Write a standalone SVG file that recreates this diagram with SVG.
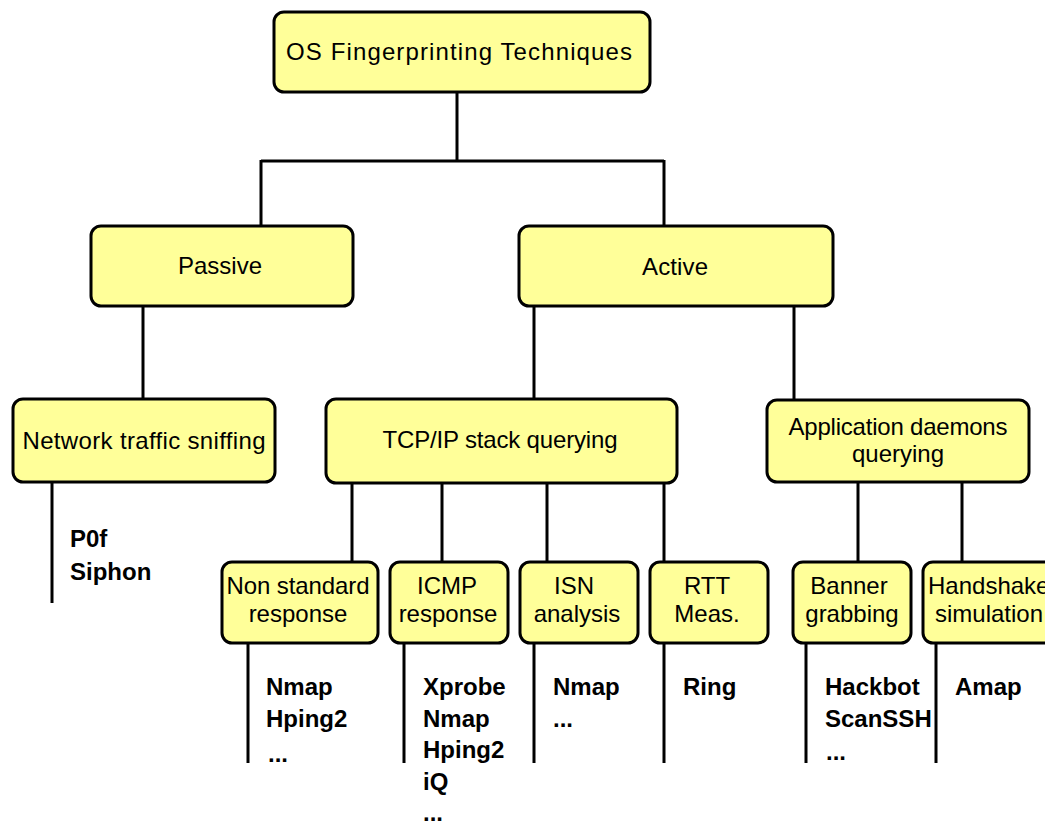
<svg xmlns="http://www.w3.org/2000/svg" width="1045" height="823" viewBox="0 0 1045 823">
  <style>
    .box { fill: #FFFF99; stroke: #000; stroke-width: 3; }
    .lbl { font-family: "Liberation Sans", Arial, sans-serif; font-size: 24px; fill: #000; text-anchor: middle; }
    .tool { font-family: "Liberation Sans", Arial, sans-serif; font-size: 24px; font-weight: bold; fill: #000; }
    .conn { fill: none; stroke: #000; stroke-width: 3; }
  </style>
  <rect width="1045" height="823" fill="#fff"/>

  <!-- tree connectors -->
  <g id="connectors" class="conn">
    <path d="M457,92 V161 M261,161 H664 M261,160 V226 M664,160 V226"/>
    <path d="M143,306 V399"/>
    <path d="M534,306 V399 M794,306 V400"/>
    <path d="M352,483 V562 M442,483 V562 M547,483 V562 M664,483 V562"/>
    <path d="M858,482 V562 M962,482 V562"/>
    <path d="M52,482 V603"/>
    <path d="M248,643 V763 M404,643 V763 M534,643 V763 M664,643 V763 M806,643 V763 M936,643 V763"/>
  </g>

  <g id="root">
    <rect class="box" x="274" y="12" width="376" height="80" rx="10"/>
    <text class="lbl" x="459" y="60" textLength="346" lengthAdjust="spacing">OS Fingerprinting Techniques</text>
  </g>

  <g id="passive">
    <rect class="box" x="91" y="226" width="262" height="80" rx="10"/>
    <text class="lbl" x="220" y="274" textLength="84" lengthAdjust="spacing">Passive</text>
  </g>

  <g id="active">
    <rect class="box" x="519" y="226" width="314" height="80" rx="10"/>
    <text class="lbl" x="675" y="275" textLength="66" lengthAdjust="spacing">Active</text>
  </g>

  <g id="sniffing">
    <rect class="box" x="13" y="399" width="262" height="83" rx="10"/>
    <text class="lbl" x="144" y="449" textLength="243" lengthAdjust="spacing">Network traffic sniffing</text>
    <text class="tool" x="70" y="547">P0f</text>
    <text class="tool" x="70" y="580">Siphon</text>
  </g>

  <g id="tcpip">
    <rect class="box" x="326" y="399" width="351" height="84" rx="10"/>
    <text class="lbl" x="500" y="448" textLength="235" lengthAdjust="spacing">TCP/IP stack querying</text>
  </g>

  <g id="appdaemons">
    <rect class="box" x="767" y="400" width="262" height="82" rx="10"/>
    <text class="lbl" x="898" y="435" textLength="219" lengthAdjust="spacing">Application daemons</text>
    <text class="lbl" x="898" y="462">querying</text>
  </g>

  <g id="nonstandard">
    <rect class="box" x="222" y="562" width="156" height="81" rx="10"/>
    <text class="lbl" x="298" y="594" textLength="143" lengthAdjust="spacing">Non standard</text>
    <text class="lbl" x="298" y="622">response</text>
    <text class="tool" x="266" y="695">Nmap</text>
    <text class="tool" x="266" y="727">Hping2</text>
    <text class="tool" x="268" y="762">...</text>
  </g>

  <g id="icmp">
    <rect class="box" x="390" y="562" width="118" height="81" rx="10"/>
    <text class="lbl" x="447" y="594">ICMP</text>
    <text class="lbl" x="448" y="622">response</text>
    <text class="tool" x="423" y="695">Xprobe</text>
    <text class="tool" x="423" y="727">Nmap</text>
    <text class="tool" x="423" y="758">Hping2</text>
    <text class="tool" x="423" y="790">iQ</text>
    <text class="tool" x="423" y="821">...</text>
  </g>

  <g id="isn">
    <rect class="box" x="520" y="562" width="118" height="81" rx="10"/>
    <text class="lbl" x="574" y="594">ISN</text>
    <text class="lbl" x="577" y="622">analysis</text>
    <text class="tool" x="553" y="695">Nmap</text>
    <text class="tool" x="553" y="727">...</text>
  </g>

  <g id="rtt">
    <rect class="box" x="650" y="562" width="118" height="81" rx="10"/>
    <text class="lbl" x="707" y="594">RTT</text>
    <text class="lbl" x="707" y="622">Meas.</text>
    <text class="tool" x="683" y="695">Ring</text>
  </g>

  <g id="banner">
    <rect class="box" x="793" y="562" width="118" height="81" rx="10"/>
    <text class="lbl" x="849" y="594">Banner</text>
    <text class="lbl" x="852" y="622">grabbing</text>
    <text class="tool" x="825" y="695">Hackbot</text>
    <text class="tool" x="825" y="727">ScanSSH</text>
    <text class="tool" x="826" y="760">...</text>
  </g>

  <g id="handshake">
    <rect class="box" x="923" y="562" width="140" height="81" rx="10"/>
    <text class="lbl" x="928" y="594" style="text-anchor:start">Handshake</text>
    <text class="lbl" x="935" y="622" style="text-anchor:start">simulation</text>
    <text class="tool" x="955" y="695">Amap</text>
  </g>
</svg>
